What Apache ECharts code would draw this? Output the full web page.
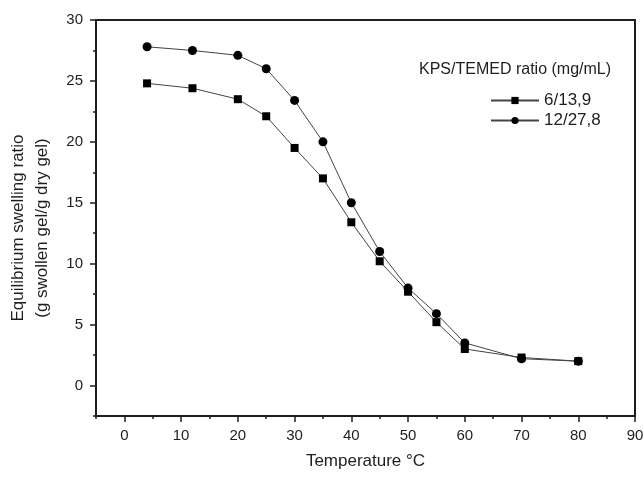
<!DOCTYPE html>
<html>
<head>
<meta charset="utf-8">
<script src="https://cdn.jsdelivr.net/npm/echarts@6/dist/echarts.min.js"></script>
<style>html,body{margin:0;padding:0;background:#fff}#c{width:644px;height:482px}</style>
</head>
<body>
<div id="c"></div>
<script>
var temperatures = [4, 12, 20, 25, 30, 35, 40, 45, 50, 55, 60, 70, 80];
var ratioLow = [24.8, 24.4, 23.5, 22.1, 19.5, 17.0, 13.4, 10.2, 7.7, 5.2, 3.0, 2.3, 2.0];
var ratioHigh = [27.8, 27.5, 27.1, 26.0, 23.4, 20.0, 15.0, 11.0, 8.0, 5.9, 3.5, 2.2, 2.0];
var seriesNames = ['6/13,9', '12/27,8'];
var xTicks = [0, 10, 20, 30, 40, 50, 60, 70, 80, 90];
var yTicks = [0, 5, 10, 15, 20, 25, 30];

function pairs(xs, ys) { return xs.map(function (x, i) { return [x, ys[i]]; }); }

var font = 'Liberation Sans, Arial, sans-serif';
var ink = '#1e1e1e';
var chart = echarts.init(document.getElementById('c'), null, { renderer: 'canvas' });
chart.setOption({
  backgroundColor: '#fff',
  animation: false,
  title: {
    text: 'KPS/TEMED ratio (mg/mL)',
    left: 414, top: 57,
    textStyle: { fontFamily: font, fontSize: 16, fontWeight: 'normal', color: ink }
  },
  legend: {
    orient: 'vertical', left: 485, top: 87, itemGap: 3,
    itemWidth: 48, itemHeight: 9,
    data: seriesNames,
    textStyle: { fontFamily: font, fontSize: 17, color: ink }
  },
  grid: { left: 96, right: 9, top: 20, bottom: 66, outerBoundsMode: 'none', containLabel: false, show: true, borderColor: ink, borderWidth: 2, backgroundColor: 'transparent' },
  xAxis: [{
    type: 'value', min: -5, max: 90, position: 'bottom',
    name: 'Temperature °C', nameLocation: 'middle', nameGap: 37,
    nameTextStyle: { fontFamily: font, fontSize: 17, color: ink },
    axisLine: { show: true, onZero: false, lineStyle: { color: ink, width: 2 } },
    axisTick: { show: true, length: 6, customValues: xTicks, lineStyle: { color: ink, width: 1.5 } },
    axisLabel: { customValues: xTicks, margin: 12, fontFamily: font, fontSize: 15, color: ink },
    splitLine: { show: false }
  }, {
    type: 'value', min: -5, max: 90, interval: 5, position: 'bottom', offset: 0,
    axisLine: { show: false, onZero: false },
    axisTick: { show: true, length: 3, lineStyle: { color: ink, width: 1.5 } },
    axisLabel: { show: false }, splitLine: { show: false }
  }],
  yAxis: [{
    type: 'value', min: -2.5, max: 30, position: 'left',
    name: 'Equilibrium swelling ratio\n(g swollen gel/g dry gel)', nameLocation: 'middle', nameGap: 42,
    nameTextStyle: { fontFamily: font, fontSize: 17, color: ink, lineHeight: 24, padding: [0, 20, 0, 0] },
    axisLine: { show: true, onZero: false, lineStyle: { color: ink, width: 2 } },
    axisTick: { show: true, length: 6, customValues: yTicks, lineStyle: { color: ink, width: 1.5 } },
    axisLabel: { customValues: yTicks, margin: 13, fontFamily: font, fontSize: 15, color: ink },
    splitLine: { show: false }
  }, {
    type: 'value', min: -2.5, max: 30, interval: 2.5, position: 'left', offset: 0,
    axisLine: { show: false, onZero: false },
    axisTick: { show: true, length: 3, lineStyle: { color: ink, width: 1.5 } },
    axisLabel: { show: false }, splitLine: { show: false }
  }],
  series: [{
    name: seriesNames[0], type: 'line', xAxisIndex: 0, yAxisIndex: 0,
    data: pairs(temperatures, ratioLow),
    symbol: 'rect', symbolSize: 8,
    lineStyle: { color: '#444', width: 1 },
    itemStyle: { color: '#000' }
  }, {
    name: seriesNames[1], type: 'line', xAxisIndex: 0, yAxisIndex: 0,
    data: pairs(temperatures, ratioHigh),
    symbol: 'circle', symbolSize: 9,
    lineStyle: { color: '#444', width: 1 },
    itemStyle: { color: '#000' }
  }]
});
</script>
</body>
</html>
